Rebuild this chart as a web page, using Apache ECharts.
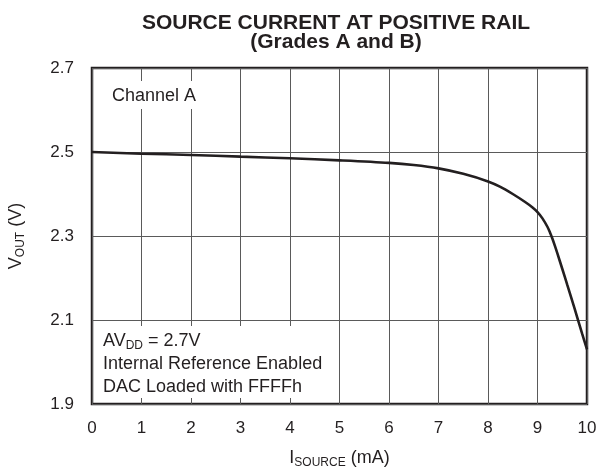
<!DOCTYPE html>
<html>
<head>
<meta charset="utf-8">
<script src="https://cdn.jsdelivr.net/npm/echarts@6/dist/echarts.min.js"></script>
<style>html,body{margin:0;padding:0;background:#fff}#c{width:598px;height:468px}</style>
</head>
<body>
<div id="c"></div>
<script>
// Data
const iSource = [0, 1, 2, 3, 4, 5, 6, 6.5, 7, 7.5, 8, 8.25, 8.5, 8.75, 8.9, 9, 9.1, 9.2, 9.25, 9.3, 9.35, 9.4, 9.5, 9.6, 9.75, 9.9, 10];
const vOut = [2.500, 2.496, 2.493, 2.489, 2.485, 2.480, 2.474, 2.469, 2.461, 2.448, 2.430, 2.417, 2.400, 2.381, 2.368, 2.357, 2.342, 2.322, 2.309, 2.294, 2.277, 2.259, 2.222, 2.184, 2.127, 2.068, 2.030];
const titleLines = ['SOURCE CURRENT AT POSITIVE RAIL', '(Grades A and B)'];
const noteLines = ['Internal Reference Enabled', 'DAC Loaded with FFFFh'];

const FONT = '"Liberation Sans", Arial, Helvetica, sans-serif';
const INK = '#231f20';
const GRID = '#5a5a5a';

const chart = echarts.init(document.getElementById('c'), null, {renderer: 'canvas'});
chart.setOption({
  animation: false,
  backgroundColor: '#fff',
  title: {
    text: titleLines.join('\n'),
    left: 331, top: 9, textAlign: 'center',
    textStyle: {fontFamily: FONT, fontSize: 21, fontWeight: 'bold', color: INK, lineHeight: 19}
  },
  grid: {left: 92, right: 11, top: 68, bottom: 64, show: true, borderColor: INK, borderWidth: 2.5,
         backgroundColor: 'transparent', containLabel: false, outerBoundsMode: 'none'},
  xAxis: {
    type: 'value', min: 0, max: 10, interval: 1,
    name: '{n|I}{s|SOURCE}{n| (mA)}', nameLocation: 'middle', nameGap: 44,
    nameTextStyle: {fontFamily: FONT, color: INK, rich: {
      n: {fontFamily: FONT, fontSize: 18, color: INK},
      s: {fontFamily: FONT, fontSize: 12, color: INK, padding: [9, 0, 0, 0]}
    }},
    axisLine: {show: false},
    axisTick: {show: true, inside: true, length: 6, lineStyle: {color: GRID}},
    axisLabel: {fontFamily: FONT, fontSize: 17, color: INK, margin: 16},
    splitLine: {show: true, lineStyle: {color: GRID, width: 1}}
  },
  yAxis: {
    type: 'value', min: 1.9, max: 2.7, interval: 0.2,
    name: '{n|V}{s|OUT}{n| (V)}', nameLocation: 'middle', nameGap: 65,
    nameTextStyle: {fontFamily: FONT, color: INK, rich: {
      n: {fontFamily: FONT, fontSize: 18, color: INK},
      s: {fontFamily: FONT, fontSize: 12, color: INK, padding: [9, 0, 0, 0]}
    }},
    axisLine: {show: false},
    axisTick: {show: false},
    axisLabel: {fontFamily: FONT, fontSize: 17, color: INK, margin: 18, formatter: v => v.toFixed(1)},
    splitLine: {show: true, lineStyle: {color: GRID, width: 1}}
  },
  series: [{
    type: 'line', smooth: 0.3, symbol: 'none',
    data: iSource.map((x, i) => [x, vOut[i]]),
    lineStyle: {color: INK, width: 2.6},
    z: 5
  }],
  graphic: [
    {type: 'rect', z: 10, shape: {x: 94, y: 81, width: 106, height: 28}, style: {fill: '#fff'}},
    {type: 'text', z: 11, x: 112, y: 96, style: {text: 'Channel A', font: '18px ' + FONT, fill: INK, verticalAlign: 'middle'}},
    {type: 'rect', z: 10, shape: {x: 94, y: 326, width: 240, height: 72}, style: {fill: '#fff'}},
    {type: 'text', z: 11, x: 103, y: 341, style: {
      text: '{n|AV}{s|DD}{n| = 2.7V}', verticalAlign: 'middle',
      rich: {n: {font: '18px ' + FONT, fill: INK}, s: {font: '12px ' + FONT, fill: INK, padding: [9, 0, 0, 0]}}
    }},
    {type: 'text', z: 11, x: 103, y: 364, style: {text: noteLines[0], font: '18px ' + FONT, fill: INK, verticalAlign: 'middle'}},
    {type: 'text', z: 11, x: 103, y: 387, style: {text: noteLines[1], font: '18px ' + FONT, fill: INK, verticalAlign: 'middle'}}
  ]
});
</script>
</body>
</html>
